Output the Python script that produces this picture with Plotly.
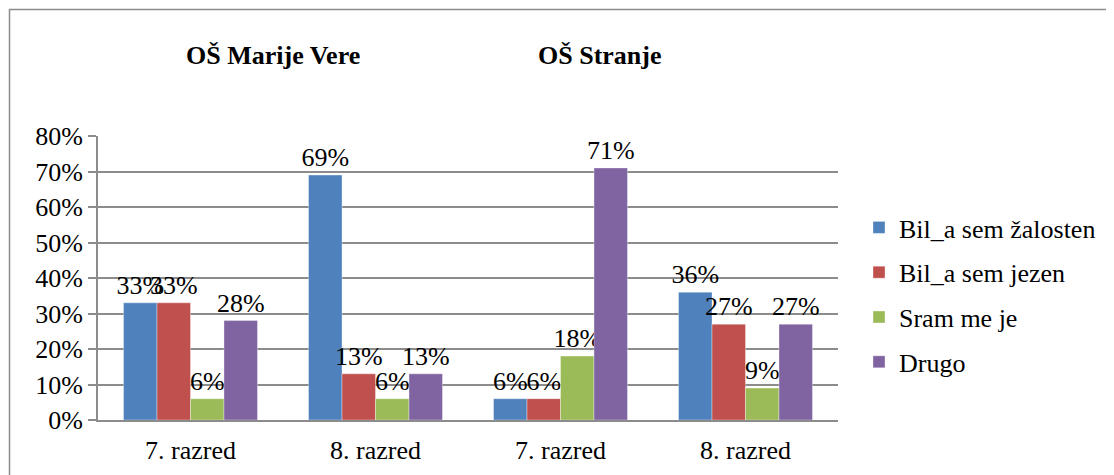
import plotly.graph_objects as go

categories = ["7. razred", "8. razred", "7. razred ", "8. razred "]
category_labels = ["7. razred", "8. razred", "7. razred", "8. razred"]
series_names = ["Bil_a sem žalosten", "Bil_a sem jezen", "Sram me je", "Drugo"]
zalosten = [0.33, 0.69, 0.06, 0.36]
jezen = [0.33, 0.13, 0.06, 0.27]
sram = [0.06, 0.06, 0.18, 0.09]
drugo = [0.28, 0.13, 0.71, 0.27]
school_titles = ["OŠ Marije Vere", "OŠ Stranje"]
y_ticks = [0, 0.1, 0.2, 0.3, 0.4, 0.5, 0.6, 0.7, 0.8]

colors = ["#4F81BD", "#C0504D", "#9BBB59", "#8064A2"]
FONT = "Liberation Serif"
FS = 26

W, H = 1114, 475
S = 8  # page body offset
# plot area in screen pixels
L, R, T, B = 98, 838, 136, 420


def px_x(p):
    return (p - L) / (R - L)


def px_y(p):
    return (B - p) / (B - T)


fig = go.Figure()
for i, (name, vals, col) in enumerate(zip(series_names, [zalosten, jezen, sram, drugo], colors)):
    fig.add_trace(go.Bar(
        name=name, x=categories, y=vals, legendgroup=f"g{i}",
        marker=dict(color=col, line=dict(color="rgba(255,255,255,0.35)", width=1)),
        text=[f"{round(v*100)}%" for v in vals],
        textposition="outside", cliponaxis=False, constraintext="none",
        textfont=dict(family=FONT, size=FS, color="black"),
    ))

annotations = []
for title, cx in zip(school_titles, [273, 600]):
    annotations.append(dict(
        text=f"<b>{title}</b>", x=px_x(cx), y=px_y(56), xref="paper", yref="paper",
        xanchor="center", yanchor="middle", showarrow=False,
        font=dict(family=FONT, size=FS, color="black"),
    ))

fig.update_layout(
    width=W, height=H,
    margin=dict(l=L - S, r=W - (R - S), t=T - S, b=H - (B - S)),
    paper_bgcolor="white", plot_bgcolor="white",
    barmode="group", bargap=0.276, bargroupgap=0,
    font=dict(family=FONT, size=FS, color="black"),
    showlegend=True,
    legend=dict(x=px_x(859), y=px_y(204), xanchor="left", yanchor="top",
                font=dict(family=FONT, size=FS, color="black"),
                bgcolor="rgba(0,0,0,0)", itemwidth=30, tracegroupgap=8,
                traceorder="grouped"),
    annotations=annotations,
    shapes=[dict(type="rect", xref="paper", yref="paper",
                 x0=px_x(9.5), x1=px_x(1140), y0=px_y(500), y1=px_y(9.5),
                 line=dict(color="#8c8c8c", width=1.5), fillcolor="rgba(0,0,0,0)",
                 layer="below")],
    xaxis=dict(tickmode="array", tickvals=categories, ticktext=category_labels,
               showgrid=False, showline=True, linecolor="#8c8c8c", linewidth=2,
               ticks="", tickfont=dict(family=FONT, size=FS), ticklabelstandoff=6,
               fixedrange=True, automargin=False),
    yaxis=dict(range=[0, 0.8], tickvals=y_ticks, tickformat=".0%",
               showgrid=True, gridcolor="#8c8c8c", gridwidth=2,
               showline=True, linecolor="#8c8c8c", linewidth=2,
               ticks="outside", ticklen=8, tickcolor="#8c8c8c", tickwidth=2,
               tickfont=dict(family=FONT, size=FS), zeroline=False,
               fixedrange=True, automargin=False),
)

fig.write_html("out.html")
